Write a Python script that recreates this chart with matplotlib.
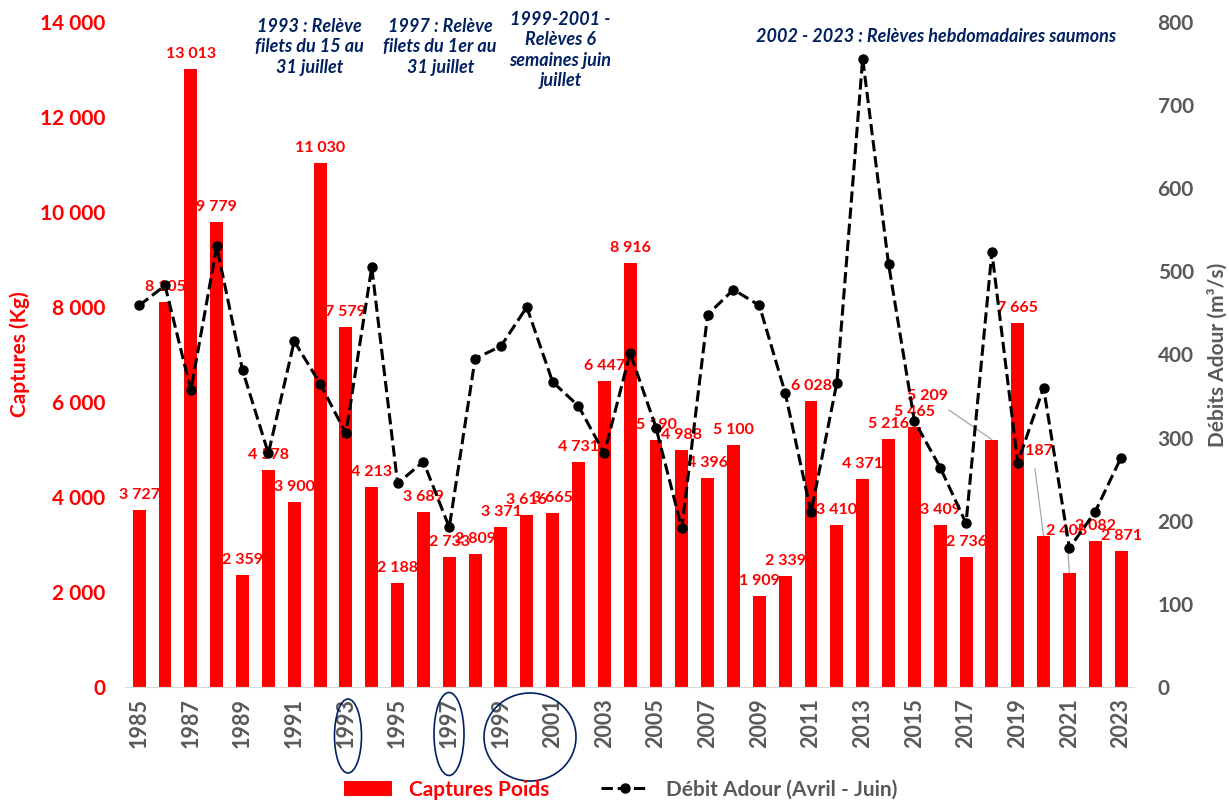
import numpy as np
import matplotlib.pyplot as plt
from matplotlib.patches import Ellipse

plt.rcParams['font.family'] = ['Lato', 'DejaVu Sans']
plt.rcParams['font.weight'] = 'bold'

years = list(range(1985, 2024))
captures = [3727, 8105, 13013, 9779, 2359, 4578, 3900, 11030, 7579, 4213,
            2188, 3689, 2733, 2809, 3371, 3616, 3665, 4731, 6447, 8916,
            5190, 4988, 4396, 5100, 1909, 2339, 6028, 3410, 4371, 5216,
            5465, 3409, 2736, 5209, 7665, 3187, 2408, 3082, 2871]
debit = [459, 483, 357, 530, 381, 281, 416, 365, 305, 505,
         245, 271, 192, 395, 410, 457, 367, 338, 281, 402,
         312, 191, 448, 478, 459, 354, 210, 366, 756, 509,
         320, 264, 197, 523, 270, 360, 167, 211, 276]

notes = [
    (6.6, 13480, "1993 : Relève\nfilets du 15 au\n31 juillet"),
    (11.65, 13480, "1997 : Relève\nfilets du 1er au\n31 juillet"),
    (16.3, 13410, "1999-2001 -\nRelèves 6\nsemaines juin\njuillet"),
    (30.85, 13690, "2002 - 2023 : Relèves hebdomadaires saumons"),
]

RED = '#FF0000'
GREY = '#595959'
NAVY = '#002060'


def fmt(v):
    return f"{v:,}".replace(",", " ")


fig = plt.figure(figsize=(12.29, 8.05), dpi=100)
ax = fig.add_axes([0.1017, 0.1466, 0.8210, 0.8261])
ax2 = ax.twinx()
x = np.arange(len(years))

bars = ax.bar(x, captures, width=0.5, color=RED, label='Captures Poids', zorder=2)
line, = ax2.plot(x, debit, color='black', ls='--', lw=2.2, marker='o', markersize=6.5,
                 label='Débit Adour (Avril - Juin)')

ax.set_xlim(-0.55, 38.5)
ax.set_ylim(0, 14000)
ax2.set_ylim(0, 800)

for a in (ax, ax2):
    for s in a.spines.values():
        s.set_visible(False)
ax.spines['bottom'].set_visible(True)
ax.spines['bottom'].set_color('#D9D9D9')

ax.set_yticks(range(0, 14001, 2000))
ax.set_yticklabels([fmt(v) for v in range(0, 14001, 2000)])
ax.tick_params(axis='y', length=0, labelcolor=RED, labelsize=15, pad=14)
ax2.set_yticks(range(0, 801, 100))
ax2.tick_params(axis='y', length=0, labelcolor=GREY, labelsize=15, pad=17)
ax.set_xticks(x[::2])
ax.set_xticklabels([str(y) for y in years[::2]], rotation=90)
ax.tick_params(axis='x', length=0, labelcolor=GREY, labelsize=15.5, pad=8)

ax.set_ylabel('Captures (Kg)', color=RED, fontsize=15, fontweight='bold')
ax.yaxis.set_label_coords(-0.094, 0.5)
ax2.set_ylabel('Débits Adour (m³/s)', color=GREY, fontsize=15, fontweight='bold')
ax2.yaxis.set_label_coords(1.073, 0.5)

# label offsets in pixels (moved labels get a leader line)
offsets = {2018: (-64, 44), 2020: (-11, 85), 2021: (-3, 42)}
for i, v in enumerate(captures):
    dx, dy = offsets.get(years[i], (0, 15))
    props = None
    if years[i] in offsets:
        props = dict(arrowstyle='-', color='#A6A6A6', lw=0.9, shrinkA=6, shrinkB=0)
    ax.annotate(fmt(v), xy=(i, v), xytext=(dx, dy), textcoords='offset pixels',
                ha='center', va='center', color=RED, fontsize=11.5,
                fontweight='bold', arrowprops=props, zorder=3)

for nx, ny, txt in notes:
    ax.text(nx, ny, txt, ha='center', va='center', color=NAVY, fontsize=13,
            fontweight='bold', style='italic', linespacing=1.25)

# circles round the tick labels
for cx, cy, w, h in [(348, 736, 27, 74), (449, 734, 30, 83), (530, 737, 92, 88)]:
    fig.patches.append(Ellipse((cx / 1229, 1 - cy / 805), w / 1229, h / 805,
                               transform=fig.transFigure, fill=False,
                               edgecolor=NAVY, lw=1.2))

leg = fig.legend([bars, line], ['Captures Poids', 'Débit Adour (Avril - Juin)'],
                 loc='center', bbox_to_anchor=(0.505, 0.019), ncol=2, frameon=False,
                 fontsize=15, handlelength=2.3, columnspacing=2.5)
leg.get_texts()[0].set_color(RED)
leg.get_texts()[1].set_color(GREY)

fig.savefig('out.png', dpi=100)
